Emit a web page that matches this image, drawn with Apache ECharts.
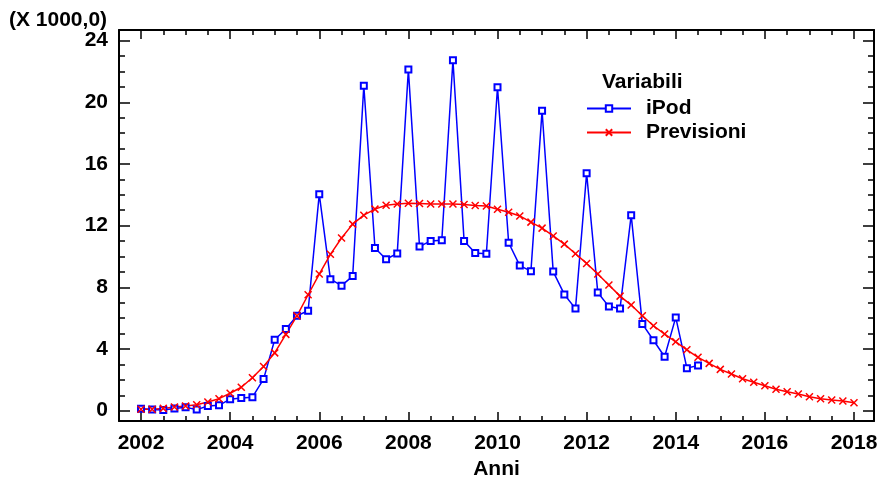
<!DOCTYPE html>
<html>
<head>
<meta charset="utf-8">
<script src="https://cdn.jsdelivr.net/npm/echarts@6/dist/echarts.min.js"></script>
<style>
html,body{margin:0;padding:0;background:#fff;}
#ipodChart{width:879px;height:479px;}
</style>
</head>
<body>
<div id="ipodChart"></div>
<script>
//dati trimestrali iPod (migliaia di unità /1000)
var ipodAnni = [
	2002,2002.25,2002.5,2002.75,2003,2003.25,2003.5,2003.75,
	2004,2004.25,2004.5,2004.75,2005,2005.25,2005.5,2005.75,
	2006,2006.25,2006.5,2006.75,2007,2007.25,2007.5,2007.75,
	2008,2008.25,2008.5,2008.75,2009,2009.25,2009.5,2009.75,
	2010,2010.25,2010.5,2010.75,2011,2011.25,2011.5,2011.75,
	2012,2012.25,2012.5,2012.75,2013,2013.25,2013.5,2013.75,
	2014,2014.25,2014.5
];
var ipodValori = [
	0.13,0.07,0.05,0.14,0.22,0.07,0.30,0.35,
	0.75,0.82,0.88,2.05,4.60,5.30,6.16,6.48,
	14.04,8.53,8.11,8.73,21.07,10.55,9.82,10.20,
	22.12,10.64,11.01,11.05,22.73,11.01,10.22,10.18,
	20.97,10.89,9.41,9.05,19.45,9.02,7.54,6.62,
	15.40,7.67,6.75,6.63,12.68,5.63,4.57,3.50,
	6.05,2.76,2.93
];

//previsioni trimestrali
var prevAnni = [
	2002,2002.25,2002.5,2002.75,2003,2003.25,2003.5,2003.75,
	2004,2004.25,2004.5,2004.75,2005,2005.25,2005.5,2005.75,
	2006,2006.25,2006.5,2006.75,2007,2007.25,2007.5,2007.75,
	2008,2008.25,2008.5,2008.75,2009,2009.25,2009.5,2009.75,
	2010,2010.25,2010.5,2010.75,2011,2011.25,2011.5,2011.75,
	2012,2012.25,2012.5,2012.75,2013,2013.25,2013.5,2013.75,
	2014,2014.25,2014.5,2014.75,2015,2015.25,2015.5,2015.75,
	2016,2016.25,2016.5,2016.75,2017,2017.25,2017.5,2017.75,
	2018
];
var prevValori = [
	0.09,0.10,0.15,0.24,0.30,0.39,0.56,0.78,
	1.13,1.52,2.14,2.87,3.75,4.95,6.15,7.52,
	8.86,10.14,11.20,12.10,12.68,13.07,13.32,13.40,
	13.45,13.44,13.40,13.40,13.40,13.37,13.31,13.27,
	13.06,12.87,12.63,12.23,11.84,11.33,10.80,10.18,
	9.55,8.87,8.15,7.43,6.85,6.16,5.51,4.97,
	4.47,3.95,3.46,3.07,2.68,2.38,2.07,1.84,
	1.62,1.39,1.23,1.08,0.91,0.78,0.69,0.63,
	0.52
];

//tacche degli assi
var xEtichette = [2002,2004,2006,2008,2010,2012,2014,2016,2018];
var xTaccheMinori = [2002.5,2003,2003.5,2004.5,2005,2005.5,2006.5,2007,2007.5,2008.5,2009,2009.5,
	2010.5,2011,2011.5,2012.5,2013,2013.5,2014.5,2015,2015.5,2016.5,2017,2017.5];
var yEtichette = [0,4,8,12,16,20,24];
var yTaccheMinori = [1,2,3,5,6,7,9,10,11,13,14,15,17,18,19,21,22,23];

var fontBase = "'Liberation Sans', Arial, sans-serif";
var xMin = 2001.506, xMax = 2018.449;
var yMin = -0.668, yMax = 24.687;

function coppie(xs, ys){
	var res = [];
	for(var i = 0; i < ys.length; i++){
		res.push([xs[i], ys[i]]);
	}
	return res;
}

function asseX(pos, ticks, len, withLine, withLabel){
	return {
		type:'value', position:pos, min:xMin, max:xMax,
		axisLine:{show:withLine, onZero:false, lineStyle:{color:'#000', width:2}},
		axisTick:{show:true, inside:true, length:len, customValues:ticks, lineStyle:{color:'#000', width:1.5}},
		axisLabel:{show:withLabel, customValues:ticks, margin:12, color:'#000',
			fontSize:21, fontWeight:'bold', fontFamily:fontBase,
			formatter:function(v){ return String(Math.round(v)); }},
		splitLine:{show:false}
	};
}
function asseY(pos, ticks, len, withLine, withLabel){
	return {
		type:'value', position:pos, min:yMin, max:yMax,
		axisLine:{show:withLine, onZero:false, lineStyle:{color:'#000', width:2}},
		axisTick:{show:true, inside:true, length:len, customValues:ticks, lineStyle:{color:'#000', width:1.5}},
		axisLabel:{show:withLabel, customValues:ticks, margin:11, color:'#000',
			fontSize:21, fontWeight:'bold', fontFamily:fontBase,
			formatter:function(v){ return String(Math.round(v)); }},
		splitLine:{show:false}
	};
}

var xBasso = asseX('bottom', xEtichette, 9, true, true);
xBasso.name = 'Anni';
xBasso.nameLocation = 'middle';
xBasso.nameGap = 38;
xBasso.nameTextStyle = {color:'#000', fontSize:21, fontWeight:'bold', fontFamily:fontBase};

var myChart = echarts.init(document.getElementById('ipodChart'));
var option = {
	animation:false,
	backgroundColor:'#fff',
	grid:{left:119, right:5, top:30, bottom:58, containLabel:false, outerBoundsMode:'none'},
	xAxis:[
		xBasso,
		asseX('bottom', xTaccheMinori, 5, false, false),
		asseX('top', xEtichette, 9, true, false),
		asseX('top', xTaccheMinori, 5, false, false)
	],
	yAxis:[
		asseY('left', yEtichette, 11, true, true),
		asseY('left', yTaccheMinori, 6, false, false),
		asseY('right', yEtichette, 11, true, false),
		asseY('right', yTaccheMinori, 6, false, false)
	],
	legend:{
		data:['iPod','Previsioni'],
		orient:'vertical',
		left:581, top:93,
		itemWidth:44, itemHeight:8, itemGap:3,
		textStyle:{color:'#000', fontSize:21, fontWeight:'bold', fontFamily:fontBase, padding:[0,0,0,10]}
	},
	graphic:[
		{type:'text', left:9, top:10,
			style:{text:'(X 1000,0)', fill:'#000', font:"bold 21px 'Liberation Sans', Arial, sans-serif"}},
		{type:'text', left:602, top:72,
			style:{text:'Variabili', fill:'#000', font:"bold 21px 'Liberation Sans', Arial, sans-serif"}}
	],
	series:[
		{
			name:'iPod', type:'line',
			data:coppie(ipodAnni, ipodValori),
			symbol:'emptyRect', symbolSize:6,
			lineStyle:{color:'#0000ff', width:1.5},
			itemStyle:{color:'#0000ff', borderColor:'#0000ff', borderWidth:1.5}
		},
		{
			name:'Previsioni', type:'line',
			data:coppie(prevAnni, prevValori),
			symbol:'path://M0,0L10,10M10,0L0,10', symbolSize:7,
			lineStyle:{color:'#ff0000', width:1.5},
			itemStyle:{color:'#ff0000', borderColor:'#ff0000', borderWidth:1.5}
		}
	]
};
myChart.setOption(option);
</script>
</body>
</html>
